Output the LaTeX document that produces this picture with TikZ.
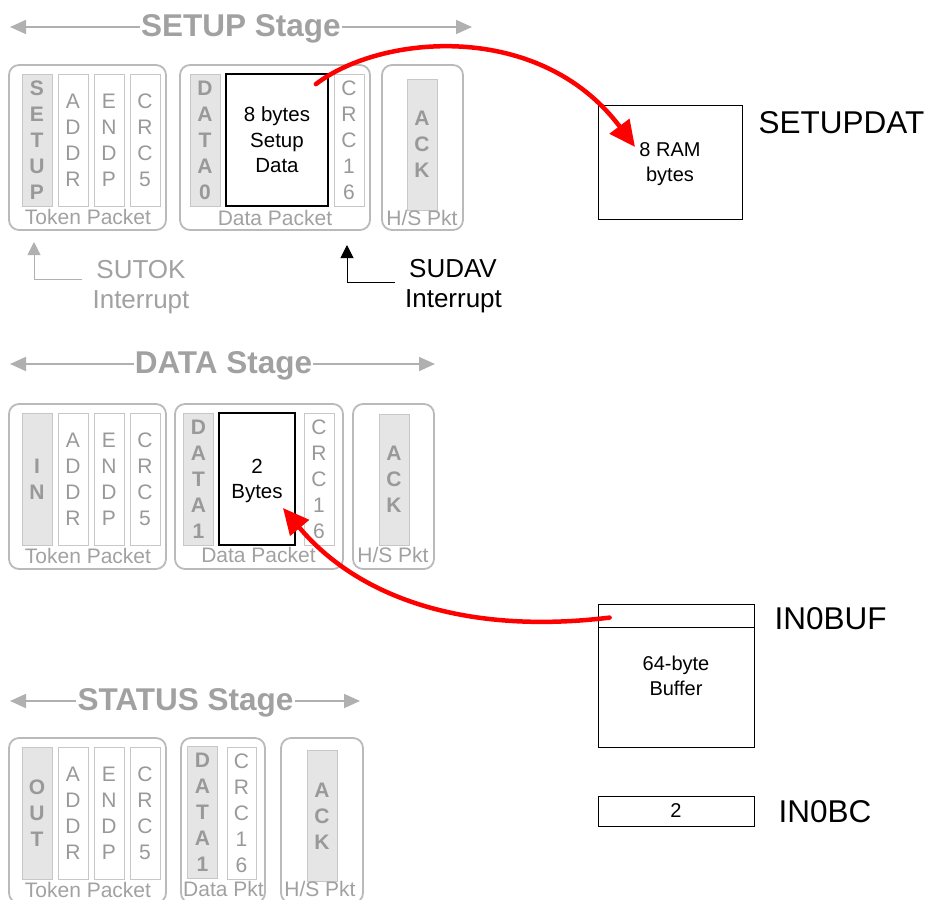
\documentclass[tikz,border=0pt]{standalone}
\usepackage{fontspec}
\setmainfont{Liberation Sans}
\usetikzlibrary{arrows.meta}

\begin{document}
\begin{tikzpicture}[x=1pt,y=-1pt,
pkt/.style={draw=black!27, line width=1.8pt, rounded corners=10pt},
col/.style={draw=black!22, line width=0.8pt, fill=white, text=black!40, minimum width=30pt, minimum height=132pt, inner sep=0pt, align=center, font=\fontsize{21}{26}\selectfont},
idcol/.style={col, fill=black!10, font=\fontsize{21}{26}\selectfont\bfseries},
plabel/.style={text=black!37, anchor=base, inner sep=0pt, font=\fontsize{21}{25}\selectfont},
stage/.style={text=black!37, anchor=base, inner sep=1pt, font=\fontsize{31.5}{36}\selectfont\bfseries},
stagearr/.style={color=black!31, line width=1.8pt, -{Triangle[length=16pt,width=14pt]}},
payload/.style={draw, line width=1.8pt, fill=white, inner sep=0pt, minimum height=132pt, text depth=0pt, align=center, font=\fontsize{20.5}{25.5}\selectfont},
rbox/.style={draw, line width=0.8pt, inner sep=0pt, text depth=0pt, align=center, font=\fontsize{20}{25}\selectfont},
reg/.style={anchor=base west, inner sep=0pt, font=\fontsize{31.5}{36}\selectfont},
intr/.style={anchor=base, font=\fontsize{26}{31}\selectfont},
intarr/.style={line width=1pt, -{Triangle[length=13pt,width=13pt]}},
redarr/.style={red, line width=4.5pt, line cap=round, -{Triangle[length=26pt,width=24pt]}}]
\useasboundingbox (0,0) rectangle (930,900);

\foreach \nm/\lab/\x/\y/\r in {setup/SETUP Stage/241/27/472, data/DATA Stage/223.5/364/435, status/STATUS Stage/185.5/701/360}{
	\node[stage] (t\nm) at (\x,\y+9) {\lab};
	\coordinate (l\nm) at (10,\y);
	\coordinate (r\nm) at (\r,\y);
	\draw[stagearr] (l\nm -| t\nm.west) -- (l\nm);
	\draw[stagearr] (r\nm -| t\nm.east) -- (r\nm);
}

\foreach \i/\y/\p in {1/65/{S\\E\\T\\U\\P}, 2/404/{I\\N}, 3/738/{O\\U\\T}}{
	\draw[pkt] (9,\y) rectangle (166,\y+165);
	\node[idcol] (pid\i) at (37,\y+75) {\p};
	\foreach \x/\f in {73/{A\\D\\D\\R}, 109/{E\\N\\D\\P}, 145/{C\\R\\C\\5}}
		\node[col] (f\i\x) at (\x,\y+75) {\f};
	\node[plabel] (tok\i) at (88,\y+159) {Token Packet};
}

\draw[pkt] (180,65) rectangle (370,230);
\node[idcol] (dzero) at (205,140) {D\\A\\T\\A\\0};
\node[payload, minimum width=102] (sdata) at (277,140) {8 bytes\\Setup\\Data};
\node[col] (crcs) at (349,140) {C\\R\\C\\1\\6};
\node[plabel] (dps) at (275,225) {Data Packet};
\draw[pkt] (382,65) rectangle (463,230);
\node[idcol, minimum height=131] (acks) at (422,144.5) {A\\C\\K};
\node[plabel] (hss) at (422,225) {H/S Pkt};

\draw[pkt] (175,404) rectangle (343,569);
\node[idcol] (done) at (198.5,479) {D\\A\\T\\A\\1};
\node[payload, minimum width=76] (bytes) at (257,479) {2\\Bytes};
\node[col] (crcd) at (319,479) {C\\R\\C\\1\\6};
\node[plabel] (dpd) at (258.5,562) {Data Packet};
\draw[pkt] (353,404) rectangle (434,569);
\node[idcol, minimum height=131] (ackd) at (394,479.5) {A\\C\\K};
\node[plabel] (hsd) at (393,562) {H/S Pkt};

\draw[pkt] (181,738) rectangle (265,903);
\node[idcol] (donet) at (202.5,812) {D\\A\\T\\A\\1};
\node[col, minimum width=29] (crct) at (241.5,813) {C\\R\\C\\1\\6};
\node[plabel] (dpt) at (223.5,896) {Data Pkt};
\draw[pkt] (281,738) rectangle (363,903);
\node[idcol, minimum height=131] (ackt) at (322,816) {A\\C\\K};
\node[plabel] (hst) at (320,896) {H/S Pkt};

\node[intr, text=black!37] (sutok) at (141,278) {SUTOK};
\node[intr, text=black!37] (sutoki) at (141,308.5) {Interrupt};
\coordinate (sutoka) at (34,242);
\draw[intarr, black!31] ([xshift=-11pt,yshift=-1.5pt]sutok.base west) -| (sutoka);
\node[intr] (sudav) at (453,277) {SUDAV};
\node[intr] (sudavi) at (453.5,307) {Interrupt};
\coordinate (sudava) at (347,245);
\draw[intarr] ([xshift=-11pt,yshift=-5pt]sudav.base west) -| (sudava);

\node[rbox, minimum width=144, minimum height=114] (ram) at (670,162) {8 RAM\\bytes};
\node[reg] (setupdat) at (758.5,133) {SETUPDAT};
\node[rbox, minimum width=156, minimum height=143] (bufbox) at (676,675.5) {64-byte\\Buffer};
\draw[line width=0.8pt] ([yshift=-24pt]bufbox.north west) -- ([yshift=-24pt]bufbox.north east);
\node[reg] (buflab) at (774.5,629) {IN0BUF};
\node[rbox, minimum width=156, minimum height=30] (bcbox) at (676,811) {2};
\node[reg] (bclab) at (778.5,822) {IN0BC};

\draw[redarr] ([shift={(-13,11)}]sdata.north east) .. controls +(65,-50) and +(-95,-127) .. ([shift={(-35,-15)}]ram.center);
\draw[redarr] ([shift={(12,14)}]bufbox.north west) .. controls +(-140,17) and +(77,92) .. ([shift={(26,29)}]bytes.center);
\end{tikzpicture}
\end{document}
